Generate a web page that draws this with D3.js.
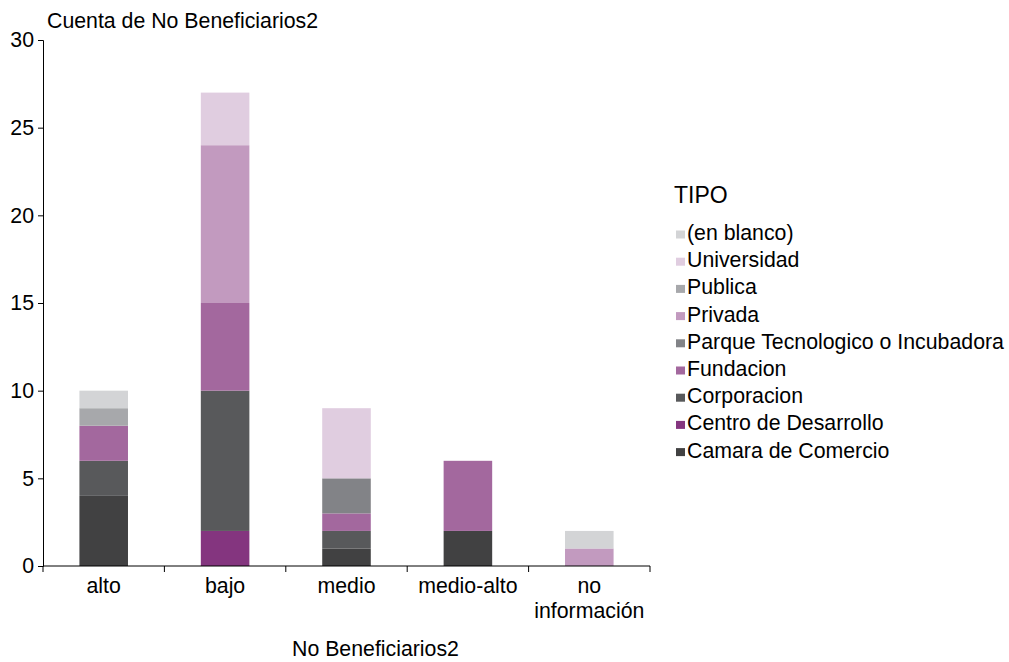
<!DOCTYPE html>
<html>
<head>
<meta charset="utf-8">
<script src="https://cdn.jsdelivr.net/npm/d3@7"></script>
<style>
	body { margin: 0; background: #fff; }
	text { font-family: "Liberation Sans", Arial, sans-serif; fill: #000; }
</style>
</head>
<body>
<script>
// categories on x, series stacked bottom to top
const categories = ['alto', 'bajo', 'medio', 'medio-alto', 'no información'];
const tipos = [
	'Camara de Comercio',
	'Centro de Desarrollo',
	'Corporacion',
	'Fundacion',
	'Parque Tecnologico o Incubadora',
	'Privada',
	'Publica',
	'Universidad',
	'(en blanco)',
];
const tipoColors = ['#414142', '#84357f', '#58595b', '#a3689e', '#828387', '#c29abf', '#a7a8ab', '#e0cde0', '#d3d4d6'];

// counts per tipo, in category order
const camara = [4, 0, 1, 2, 0];
const centro = [0, 2, 0, 0, 0];
const corporacion = [2, 8, 1, 0, 0];
const fundacion = [2, 5, 1, 4, 0];
const parque = [0, 0, 2, 0, 0];
const privada = [0, 9, 0, 0, 1];
const publica = [1, 0, 0, 0, 0];
const universidad = [0, 3, 4, 0, 0];
const enBlanco = [1, 0, 0, 0, 1];

const yTicks = [0, 5, 10, 15, 20, 25, 30];

const series = [camara, centro, corporacion, fundacion, parque, privada, publica, universidad, enBlanco];
const table = categories.map((c, i) => {
	const row = { cat: c };
	tipos.forEach((t, j) => { row[t] = series[j][i]; });
	return row;
});

const width = 1009;
const height = 662;
const margin = { top: 40, right: 359, bottom: 96, left: 43 };
const innerW = width - margin.left - margin.right;
const innerH = height - margin.top - margin.bottom;
const fs = '21.3px';

const svg = d3
	.select('body')
	.append('svg')
	.attr('width', width)
	.attr('height', height);

const g = svg.append('g').attr('transform', `translate(${margin.left},${margin.top})`);

const x = d3.scaleBand().domain(categories).range([0, innerW]).paddingInner(0.6).paddingOuter(0.3);
const y = d3.scaleLinear().domain([0, 30]).range([innerH, 0]);
const color = d3.scaleOrdinal().domain(tipos).range(tipoColors);

const stacked = d3.stack().keys(tipos)(table);

g.selectAll('g.layer')
	.data(stacked)
	.enter()
	.append('g')
	.attr('class', 'layer')
	.attr('fill', d => color(d.key))
	.selectAll('rect')
	.data(d => d.filter(s => s[1] > s[0]))
	.enter()
	.append('rect')
	.attr('x', d => x(d.data.cat))
	.attr('width', x.bandwidth())
	.attr('y', d => y(d[1]))
	.attr('height', d => y(d[0]) - y(d[1]));

// y axis
const yAxis = g.append('g')
	.call(d3.axisLeft(y).tickValues(yTicks).tickSize(5).tickSizeOuter(5).tickPadding(4));
yAxis.selectAll('text').style('font-size', fs).attr('font-family', null);
yAxis.selectAll('line, path').attr('stroke', '#000');

// x axis with ticks between bands
const xAxisG = g.append('g').attr('transform', `translate(0,${innerH})`);
xAxisG.append('line').attr('x1', 0).attr('x2', innerW).attr('stroke', '#000');
const step = innerW / categories.length;
xAxisG.selectAll('line.tick')
	.data(d3.range(categories.length + 1))
	.enter()
	.append('line')
	.attr('class', 'tick')
	.attr('x1', d => d * step)
	.attr('x2', d => d * step)
	.attr('y1', 0)
	.attr('y2', 6)
	.attr('stroke', '#000');

const xLabels = xAxisG.selectAll('text.xl')
	.data(categories)
	.enter()
	.append('text')
	.attr('class', 'xl')
	.attr('text-anchor', 'middle')
	.attr('x', d => x(d) + x.bandwidth() / 2)
	.attr('y', 27)
	.style('font-size', fs);
xLabels.each(function(d) {
	const words = d === 'no información' ? ['no', 'información'] : [d];
	words.forEach((w, i) => {
		d3.select(this).append('tspan')
			.attr('x', x(d) + x.bandwidth() / 2)
			.attr('dy', i === 0 ? 0 : 25)
			.text(w);
	});
});

// titles
svg.append('text')
	.attr('x', 47)
	.attr('y', 28)
	.style('font-size', fs)
	.text('Cuenta de No Beneficiarios2');

svg.append('text')
	.attr('x', 292)
	.attr('y', 656)
	.style('font-size', fs)
	.text('No Beneficiarios2');

// legend
const legend = svg.append('g').attr('transform', 'translate(673,0)');
legend.append('text')
	.attr('x', 1)
	.attr('y', 203)
	.style('font-size', '23px')
	.text('TIPO');

const items = legend.selectAll('g.item')
	.data(tipos.slice().reverse())
	.enter()
	.append('g')
	.attr('class', 'item')
	.attr('transform', (d, i) => `translate(0,${232.5 + i * 27.2})`);

items.append('rect')
	.attr('x', 3)
	.attr('y', -2)
	.attr('width', 9)
	.attr('height', 8)
	.attr('fill', d => color(d));

items.append('text')
	.attr('x', 14)
	.attr('y', 0)
	.attr('dy', '.35em')
	.style('font-size', fs)
	.text(d => d);
</script>
</body>
</html>
